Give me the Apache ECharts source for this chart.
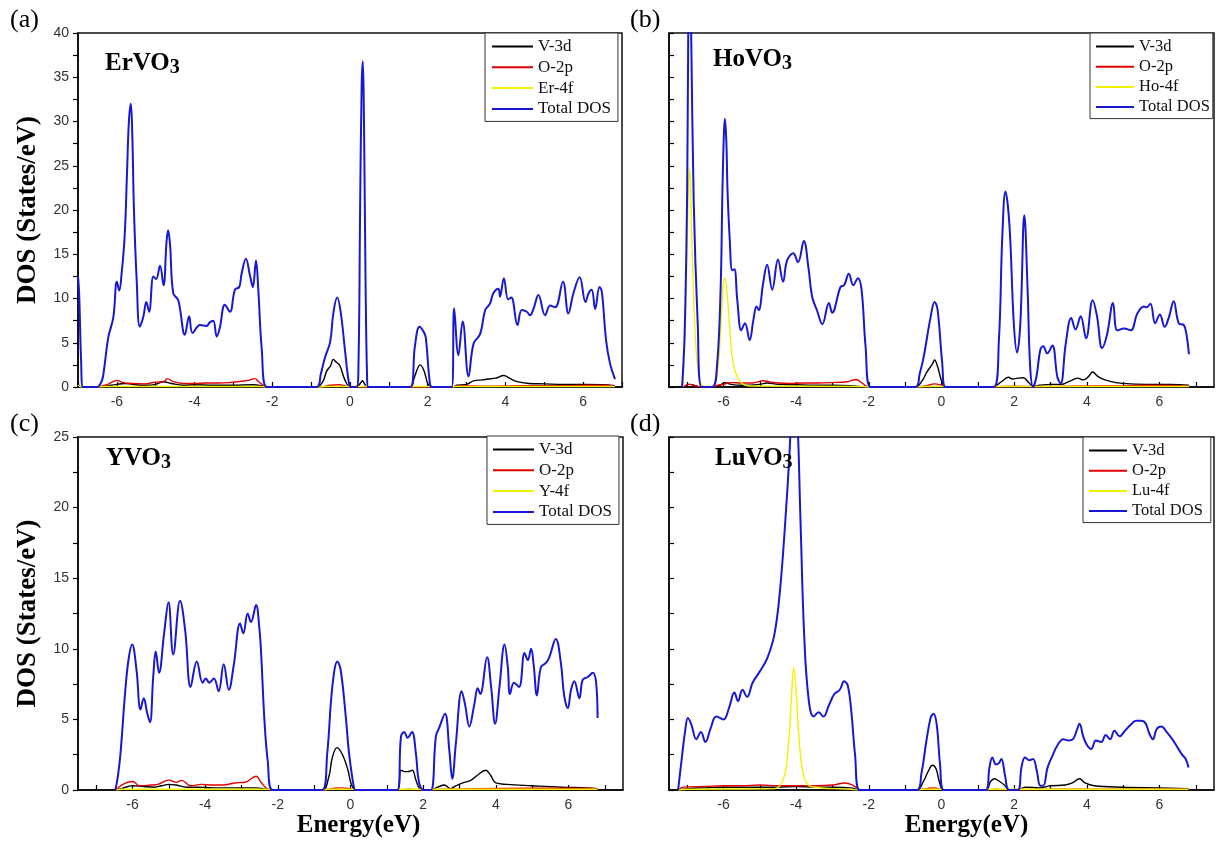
<!DOCTYPE html>
<html>
<head>
<meta charset="utf-8">
<title>Density of states of RVO3</title>
<script src="https://cdn.jsdelivr.net/npm/echarts@6/dist/echarts.min.js"></script>
<style>
html,body{margin:0;padding:0;background:#fff;}
#chart{width:1221px;height:843px;}
</style>
</head>
<body>
<div id="chart"></div>
<script>
// ---------- axis tick values ----------
const energyLabels = [-6, -4, -2, 0, 2, 4, 6];
const energyTicks = [-7, -6, -5, -4, -3, -2, -1, 0, 1, 2, 3, 4, 5, 6, 7];

// ---------- (a) ErVO3 : [energy (eV), DOS (states/eV)] ----------
const erTotal = [[-7.0,12.5],[-6.97,10.5],[-6.92,3],[-6.87,0],[-6.5,0],[-6.42,0.4],[-6.36,1.1],[-6.22,5.6],[-6.09,7.9],[-6.0,11.9],[-5.94,10.9],[-5.88,12.7],[-5.8,17.0],[-5.74,24],[-5.69,30],[-5.64,32],[-5.6,28],[-5.56,20],[-5.49,12.1],[-5.41,6.8],[-5.32,7.9],[-5.24,9.6],[-5.17,8.5],[-5.06,12.5],[-4.99,12.2],[-4.89,13.7],[-4.8,11.5],[-4.72,16.5],[-4.68,17.7],[-4.63,16],[-4.55,10.6],[-4.42,9.8],[-4.25,5.9],[-4.14,8.0],[-4.05,6.1],[-3.86,7.0],[-3.69,6.9],[-3.61,7.3],[-3.52,7.5],[-3.43,5.7],[-3.35,6.7],[-3.22,9.3],[-3.09,8.5],[-2.96,11.0],[-2.85,11.3],[-2.79,12.8],[-2.68,14.5],[-2.57,12.5],[-2.5,11.3],[-2.42,14.3],[-2.36,11],[-2.27,4.2],[-2.14,0],
  [-0.86,0],[-0.75,1.5],[-0.64,3.4],[-0.51,5.1],[-0.43,8.3],[-0.33,10.1],[-0.24,8.5],[-0.13,4.2],[-0.02,0.3],[0.05,0],[0.17,0],[0.22,3],[0.26,20],[0.3,34],[0.33,36.8],[0.36,30],[0.4,12],[0.44,1],[0.47,0],
  [1.55,0],[1.67,4.6],[1.79,6.8],[1.9,6.2],[1.95,5.6],[2.06,0.3],[2.12,0],[2.62,0],[2.68,8.9],[2.79,3.6],[2.9,7.4],[3.05,1.2],[3.18,4.9],[3.35,6.0],[3.48,8.7],[3.6,9.4],[3.69,10.6],[3.82,11.1],[3.86,10.2],[3.96,12.3],[4.07,9.9],[4.15,10.1],[4.31,7.0],[4.42,8.7],[4.55,8.5],[4.63,8.1],[4.72,8.8],[4.85,10.4],[5.02,8.1],[5.15,9.2],[5.28,9.0],[5.48,11.9],[5.62,8.3],[5.75,10.6],[5.91,12.4],[6.06,9.6],[6.14,10.6],[6.22,11.0],[6.31,8.8],[6.42,11.3],[6.48,10.8],[6.59,5.3],[6.69,2.7],[6.82,0.9]];
const erV3d = [[-7.0,0.3],[-6.9,0],[-6.5,0],[-6.3,0.1],[-6.0,0.3],[-5.8,0.4],[-5.6,0.3],[-5.3,0.2],[-5.0,0.3],[-4.8,0.6],[-4.6,0.4],[-4.3,0.2],[-4.0,0.25],[-3.5,0.2],[-3.0,0.2],[-2.5,0.25],[-2.2,0.1],[-2.1,0],
  [-0.86,0],[-0.7,0.6],[-0.6,1.8],[-0.5,2.4],[-0.43,3.1],[-0.35,2.8],[-0.26,2.4],[-0.15,1.0],[-0.03,0.1],[0.1,0],[0.2,0.1],[0.28,0.5],[0.32,0.7],[0.37,0.4],[0.44,0],
  [1.55,0],[1.65,1.0],[1.75,2.2],[1.8,2.5],[1.9,1.9],[2.0,0.4],[2.08,0],[2.65,0],[2.75,0.2],[3.0,0.3],[3.18,0.7],[3.4,0.8],[3.55,0.9],[3.75,1.0],[3.96,1.3],[4.1,1.0],[4.3,0.6],[4.6,0.4],[5.0,0.35],[5.5,0.3],[6.0,0.3],[6.5,0.25],[6.82,0.15]];
const erO2p = [[-6.5,0],[-6.3,0.2],[-6.1,0.6],[-6.0,0.75],[-5.85,0.5],[-5.6,0.4],[-5.3,0.35],[-5.0,0.55],[-4.8,0.6],[-4.7,0.95],[-4.55,0.6],[-4.3,0.4],[-4.0,0.4],[-3.7,0.45],[-3.4,0.45],[-3.1,0.5],[-2.8,0.65],[-2.6,0.75],[-2.45,0.95],[-2.35,0.6],[-2.2,0.1],[-2.1,0],
  [-0.8,0],[-0.5,0.2],[-0.3,0.25],[-0.05,0.05],[0.1,0],[2.65,0],[2.8,0.15],[3.5,0.1],[4.5,0.15],[5.5,0.15],[6.2,0.2],[6.5,0.2],[6.82,0.1]];
const erF4f = [[-7.0,0.2],[-6.9,0],[-6.5,0],[-6.3,0.06],[-2.3,0.06],[-2.1,0],[-0.8,0],[-0.6,0.06],[0.45,0.06],[0.5,0],[1.55,0],[1.6,0.06],[2.05,0.06],[2.1,0],[2.6,0],[2.7,0.06],[6.82,0.06]];

// ---------- (b) HoVO3 ----------
const hoTotal = [[-7.14,0],[-7.07,6],[-7.0,22],[-6.97,40],[-6.93,48],[-6.89,40],[-6.82,21],[-6.71,7.2],[-6.6,0],[-6.31,0],[-6.18,2.3],[-6.08,11],[-6.03,22],[-5.99,28.5],[-5.96,30.3],[-5.92,27.5],[-5.89,22.3],[-5.83,16.8],[-5.76,13.2],[-5.70,13.3],[-5.62,9.8],[-5.51,6.4],[-5.41,7.2],[-5.28,5.3],[-5.18,7.5],[-5.09,9.1],[-5.03,8.7],[-4.91,11.7],[-4.8,13.8],[-4.66,11.0],[-4.5,14.4],[-4.36,11.9],[-4.25,14.3],[-4.08,15.1],[-3.95,14.1],[-3.79,16.5],[-3.66,13.4],[-3.56,10.2],[-3.43,8.7],[-3.28,7.1],[-3.1,9.5],[-3.01,8.4],[-2.78,11.3],[-2.68,11.5],[-2.55,12.8],[-2.43,11.5],[-2.3,12.3],[-2.2,11.0],[-2.09,4.6],[-1.95,0],
  [-0.72,0],[-0.6,1.5],[-0.49,3.4],[-0.3,7.9],[-0.19,9.6],[-0.11,8.8],[0.02,2.7],[0.11,0],
  [1.44,0],[1.58,5.3],[1.67,16.6],[1.76,22.1],[1.87,18.3],[1.99,7.2],[2.08,3.9],[2.17,7.2],[2.28,19.4],[2.37,11.0],[2.44,2.3],[2.52,0],[2.61,1.1],[2.72,4.2],[2.8,4.6],[2.91,3.8],[3.05,4.7],[3.19,1.1],[3.28,0.4],[3.42,4.9],[3.57,7.8],[3.69,6.5],[3.83,8.0],[3.98,5.5],[4.16,9.8],[4.28,8.0],[4.42,4.4],[4.56,6.0],[4.72,9.5],[4.84,6.4],[5.03,6.6],[5.21,6.4],[5.39,8.3],[5.57,9.1],[5.64,9.0],[5.75,9.4],[5.88,7.2],[6.01,8.2],[6.14,6.8],[6.26,7.9],[6.39,9.7],[6.53,7.2],[6.67,7.0],[6.74,6.0],[6.81,3.7]];
const hoV3d = [[-7.1,0],[-6.95,0.3],[-6.6,0],[-6.3,0],[-6.1,0.2],[-5.95,0.5],[-5.8,0.3],[-5.5,0.2],[-5.0,0.3],[-4.8,0.45],[-4.5,0.3],[-4.0,0.25],[-3.5,0.2],[-3.0,0.2],[-2.5,0.15],[-2.0,0],
  [-0.72,0],[-0.55,0.6],[-0.4,1.7],[-0.25,2.6],[-0.19,3.05],[-0.1,2.2],[-0.03,1.1],[0.05,0.2],[0.12,0],
  [1.44,0],[1.55,0.3],[1.65,0.6],[1.84,1.1],[1.95,0.9],[2.1,1.0],[2.25,1.05],[2.4,0.5],[2.52,0.1],[2.7,0.2],[3.0,0.3],[3.3,0.3],[3.5,0.6],[3.75,1.0],[3.9,0.8],[4.05,1.2],[4.16,1.7],[4.3,1.2],[4.5,0.8],[4.8,0.5],[5.2,0.35],[5.8,0.3],[6.3,0.3],[6.81,0.2]];
const hoO2p = [[-7.1,0],[-6.95,0.3],[-6.6,0],[-6.3,0],[-6.15,0.2],[-6.0,0.3],[-5.8,0.5],[-5.5,0.45],[-5.2,0.45],[-4.9,0.7],[-4.7,0.55],[-4.5,0.45],[-4.2,0.4],[-3.8,0.45],[-3.4,0.45],[-3.0,0.5],[-2.6,0.6],[-2.35,0.85],[-2.2,0.5],[-2.0,0],
  [-0.72,0],[-0.4,0.15],[-0.2,0.35],[0.0,0.2],[0.12,0],[1.44,0],[2.0,0.1],[2.6,0.05],[3.5,0.1],[5.0,0.15],[5.8,0.2],[6.5,0.15],[6.81,0.1]];
const hoF4f = [[-7.12,0],[-7.04,8],[-6.97,22],[-6.93,24.7],[-6.88,18],[-6.82,10],[-6.75,4],[-6.65,0.8],[-6.55,0.1],[-6.3,0.05],[-6.18,1.1],[-6.08,6.4],[-6.01,11.5],[-5.96,12.3],[-5.9,10.5],[-5.85,7.9],[-5.76,3.4],[-5.62,1.1],[-5.45,0.3],[-5.2,0.1],[-2.2,0.06],[-2.0,0],
  [-0.7,0],[-0.5,0.05],[0.1,0.05],[0.15,0],[1.44,0],[1.5,0.05],[2.5,0.05],[2.6,0.05],[6.81,0.05]];

// ---------- (c) YVO3 ----------
const yTotal = [[-6.47,0],[-6.4,1],[-6.33,2.6],[-6.19,7.3],[-6.1,9.4],[-6.01,10.3],[-5.89,8.5],[-5.78,5.7],[-5.69,6.5],[-5.6,5.5],[-5.52,4.8],[-5.43,8.0],[-5.36,9.8],[-5.27,8.3],[-5.13,11.1],[-5.01,13.3],[-4.88,9.6],[-4.69,13.4],[-4.55,11.3],[-4.4,7.3],[-4.23,9.1],[-4.07,7.6],[-3.98,7.9],[-3.89,7.6],[-3.76,7.9],[-3.63,7.0],[-3.49,8.9],[-3.35,7.1],[-3.21,8.9],[-3.04,11.8],[-2.95,11.1],[-2.83,12.5],[-2.74,11.9],[-2.6,13.1],[-2.51,11.5],[-2.46,9.7],[-2.37,5.0],[-2.28,2.1],[-2.14,0],
  [-0.78,0],[-0.64,2.6],[-0.5,7.3],[-0.36,9.1],[-0.27,8.5],[-0.13,5.2],[-0.04,2.6],[0.1,0.1],[0.15,0],
  [1.29,0],[1.39,3.8],[1.48,4.1],[1.57,3.7],[1.69,4.1],[1.8,2.6],[1.89,0.5],[2.03,0],
  [2.21,0],[2.35,3.8],[2.44,4.4],[2.6,5.4],[2.72,2.8],[2.8,0.8],[2.9,3.3],[3.06,7.0],[3.15,6.1],[3.27,4.5],[3.41,6.1],[3.5,7.2],[3.57,6.8],[3.76,9.4],[3.87,7.3],[3.98,4.7],[4.1,7.3],[4.24,10.3],[4.33,8.7],[4.39,6.8],[4.5,7.6],[4.64,7.3],[4.79,9.7],[4.88,9.2],[4.97,10.0],[5.04,8.9],[5.13,6.7],[5.24,8.7],[5.38,9.0],[5.47,9.4],[5.65,10.7],[5.79,9.0],[5.88,6.7],[5.98,5.8],[6.07,7.1],[6.16,7.7],[6.3,6.5],[6.39,7.8],[6.53,8.0],[6.67,8.3],[6.76,7.6],[6.8,5.1]];
const yV3d = [[-6.45,0],[-6.3,0.1],[-6.0,0.3],[-5.7,0.25],[-5.4,0.2],[-5.2,0.3],[-5.0,0.4],[-4.8,0.35],[-4.5,0.2],[-4.2,0.2],[-3.8,0.15],[-3.4,0.15],[-3.0,0.15],[-2.6,0.15],[-2.3,0.05],[-2.15,0],
  [-0.78,0],[-0.6,0.9],[-0.5,2.3],[-0.37,3.0],[-0.22,2.5],[-0.08,1.5],[0.01,0.5],[0.1,0.05],[0.15,0],
  [1.29,0],[1.39,1.4],[1.5,1.3],[1.57,1.3],[1.7,1.4],[1.8,0.7],[1.9,0.1],[2.0,0],[2.2,0],[2.4,0.2],[2.58,0.35],[2.75,0.1],[2.9,0.3],[3.09,0.5],[3.32,0.7],[3.5,1.06],[3.72,1.4],[3.85,1.06],[4.0,0.5],[4.3,0.4],[5.0,0.3],[5.8,0.2],[6.5,0.15],[6.8,0.1]];
const yO2p = [[-6.45,0],[-6.3,0.35],[-6.0,0.6],[-5.8,0.3],[-5.5,0.35],[-5.3,0.4],[-5.0,0.7],[-4.8,0.55],[-4.65,0.68],[-4.4,0.3],[-4.1,0.4],[-3.8,0.35],[-3.5,0.35],[-3.2,0.5],[-2.9,0.55],[-2.6,0.97],[-2.45,0.5],[-2.3,0.1],[-2.15,0],
  [-0.78,0],[-0.5,0.1],[-0.3,0.15],[0.0,0.1],[0.15,0],[1.29,0],[1.6,0.05],[2.0,0],[2.2,0],[2.5,0.05],[3.5,0.1],[5.0,0.12],[6.0,0.12],[6.8,0.1]];
const yF4f = [[-6.45,0],[-6.3,0.05],[-2.2,0.05],[-2.15,0],[-0.78,0],[-0.6,0.05],[0.1,0.05],[0.15,0],[1.29,0],[1.35,0.05],[1.95,0.05],[2.0,0],[2.2,0],[2.3,0.05],[6.8,0.05]];

// ---------- (d) LuVO3 ----------
const luTotal = [[-7.25,0],[-7.15,2.2],[-7.05,4.3],[-6.98,5.1],[-6.88,4.6],[-6.75,3.6],[-6.62,4.1],[-6.5,3.4],[-6.35,4.4],[-6.2,5.2],[-6.0,5.0],[-5.85,5.8],[-5.7,6.9],[-5.6,6.3],[-5.48,7.1],[-5.35,6.6],[-5.2,7.6],[-5.0,8.4],[-4.8,9.3],[-4.6,11],[-4.45,14],[-4.3,19],[-4.18,24],[-4.08,29],[-3.98,27],[-3.88,19],[-3.78,11],[-3.66,6.5],[-3.52,5.2],[-3.38,5.5],[-3.25,5.2],[-3.1,6.0],[-2.95,6.8],[-2.8,7.1],[-2.68,7.7],[-2.58,7.4],[-2.48,5.5],[-2.38,2.5],[-2.25,0],
  [-0.68,0],[-0.55,1.2],[-0.42,3.4],[-0.3,5.1],[-0.22,5.4],[-0.13,4.6],[-0.04,1.8],[0.06,0],
  [1.22,0],[1.32,1.6],[1.4,2.3],[1.5,1.8],[1.58,1.9],[1.65,2.2],[1.75,1.0],[1.86,0],[2.1,0],[2.2,1.6],[2.3,2.3],[2.42,2.1],[2.52,2.2],[2.62,1.4],[2.72,0.3],[2.8,0.3],[2.92,1.6],[3.05,2.4],[3.2,3.2],[3.35,3.6],[3.5,3.5],[3.62,3.6],[3.72,4.2],[3.8,4.7],[3.9,3.8],[4.0,3.2],[4.12,2.9],[4.25,3.5],[4.4,3.4],[4.52,3.9],[4.64,3.6],[4.76,4.2],[4.9,3.8],[5.05,4.2],[5.2,4.6],[5.35,4.9],[5.5,4.9],[5.62,4.7],[5.72,4.0],[5.82,3.6],[5.92,4.3],[6.05,4.5],[6.2,4.1],[6.35,3.6],[6.5,3.0],[6.62,2.5],[6.72,2.2],[6.8,1.6]];
const luV3d = [[-7.25,0],[-7.0,0.1],[-6.5,0.15],[-6.0,0.2],[-5.5,0.2],[-5.0,0.2],[-4.5,0.2],[-4.0,0.25],[-3.5,0.2],[-3.0,0.2],[-2.5,0.15],[-2.25,0],
  [-0.68,0],[-0.5,0.6],[-0.35,1.4],[-0.25,1.75],[-0.15,1.5],[-0.05,0.5],[0.06,0],[1.22,0],[1.35,0.6],[1.45,0.8],[1.6,0.6],[1.75,0.3],[1.86,0],[2.1,0],[2.3,0.2],[2.7,0.15],[3.0,0.3],[3.4,0.35],[3.6,0.5],[3.8,0.8],[3.95,0.5],[4.2,0.3],[5.0,0.2],[6.0,0.15],[6.8,0.1]];
const luO2p = [[-7.25,0],[-7.1,0.2],[-6.5,0.25],[-6.0,0.3],[-5.5,0.3],[-5.0,0.35],[-4.5,0.3],[-4.0,0.3],[-3.5,0.3],[-3.0,0.35],[-2.65,0.5],[-2.45,0.35],[-2.3,0.1],[-2.25,0],[-0.68,0],[-0.4,0.1],[-0.2,0.15],[0.06,0],[1.22,0],[1.5,0.05],[1.86,0],[2.1,0],[3.0,0.05],[6.8,0.05]];
const luF4f = [[-7.25,0],[-7.0,0.05],[-4.6,0.1],[-4.35,0.8],[-4.22,3],[-4.12,7],[-4.07,8.7],[-4.0,7],[-3.9,3],[-3.78,0.9],[-3.6,0.25],[-2.5,0.05],[-2.25,0],[-0.68,0],[-0.5,0.05],[0.05,0.05],[0.06,0],[1.22,0],[1.3,0.05],[6.8,0.05]];

// ---------- panel definitions ----------
const partialNames = ['V-3d', 'O-2p'];
const panels = [
  { tag: '(a)', formula: 'ErVO', f4: 'Er-4f', data: [erV3d, erO2p, erF4f, erTotal] },
  { tag: '(b)', formula: 'HoVO', f4: 'Ho-4f', data: [hoV3d, hoO2p, hoF4f, hoTotal] },
  { tag: '(c)', formula: 'YVO',  f4: 'Y-4f',  data: [yV3d, yO2p, yF4f, yTotal] },
  { tag: '(d)', formula: 'LuVO', f4: 'Lu-4f', data: [luV3d, luO2p, luF4f, luTotal] }
];

const SERIF = '"Liberation Serif", "Times New Roman", serif';
const SANS = '"Liberation Sans", Arial, sans-serif';
const lineColors = ['#000000', '#e00000', '#f2f200', '#1818d2'];
const lineWidths = [1.4, 1.4, 1.4, 2.0];

const grids = [
  { left: 78,  top: 33,  width: 544, height: 354 },
  { left: 669, top: 33,  width: 545, height: 354 },
  { left: 78,  top: 437, width: 545, height: 353 },
  { left: 669, top: 437, width: 545, height: 353 }
].map(g => Object.assign({ show: true, borderColor: '#111', borderWidth: 1.5,
  backgroundColor: 'transparent', outerBoundsMode: 'none', containLabel: false }, g));

const xRanges = [[-7, 7], [-7.5, 7.5], [-7.5, 7.5], [-7.5, 7.5]];
const xAxes = xRanges.map((r, i) => ({
  type: 'value', gridIndex: i, min: r[0], max: r[1],
  axisLine: { show: true, onZero: false, lineStyle: { color: '#000', width: 1.5 } },
  axisTick: { show: true, inside: true, length: 5, customValues: energyTicks, lineStyle: { color: '#000', width: 1.2 } },
  axisLabel: { show: true, customValues: energyLabels, margin: 8, fontSize: 14, color: '#333', fontFamily: SANS },
  splitLine: { show: false },
  name: i >= 2 ? 'Energy(eV)' : '',
  nameLocation: 'middle', nameGap: 23,
  nameTextStyle: { fontFamily: SERIF, fontWeight: 'bold', fontSize: 25, color: '#000',
    padding: i === 2 ? [0, 0, 0, 16] : [0, 0, 0, 50] }
}));

const yMax = [40, 40, 25, 25];
const yAxes = yMax.map((m, i) => {
  const left = (i % 2 === 0);
  return {
    type: 'value', gridIndex: i, min: 0, max: m, interval: 5,
    axisLine: { show: true, onZero: false, lineStyle: { color: '#000', width: 1.5 } },
    axisTick: { show: true, inside: !left, length: 5, lineStyle: { color: '#000', width: 1.2 } },
    minorTick: { show: true, splitNumber: 2, length: 5, lineStyle: { color: '#000', width: 1.2 } },
    axisLabel: { show: left, margin: 9, fontSize: 14, color: '#333', fontFamily: SANS },
    splitLine: { show: false }, minorSplitLine: { show: false },
    name: left ? 'DOS (States/eV)' : '',
    nameLocation: 'middle', nameRotate: 90, nameGap: 36,
    nameTextStyle: { fontFamily: SERIF, fontWeight: 'bold', fontSize: 27, color: '#000' }
  };
});

const series = [];
panels.forEach((p, i) => {
  const names = [partialNames[0], partialNames[1], p.f4, 'Total DOS'];
  p.data.forEach((d, k) => {
    series.push({
      type: 'line', name: names[k], xAxisIndex: i, yAxisIndex: i,
      data: d, showSymbol: false, symbol: 'none', smooth: 0.4, clip: true,
      color: lineColors[k],
      lineStyle: { color: lineColors[k], width: lineWidths[k] },
      z: 2 + k, silent: true
    });
  });
});

const legendBoxes = [
  { left: 485,  top: 33,  fontSize: 17, lineHeight: 17, itemGap: 3.8, itemWidth: 41, padding: [5, 7, 4, 7] },
  { left: 1090, top: 33,  fontSize: 16.5, lineHeight: 16, itemGap: 3.2, itemWidth: 38, padding: [5, 3, 3, 6] },
  { left: 487,  top: 436, fontSize: 17, lineHeight: 17, itemGap: 3.8, itemWidth: 41, padding: [5, 7, 4, 6] },
  { left: 1083, top: 437, fontSize: 16.5, lineHeight: 16, itemGap: 3.2, itemWidth: 38, padding: [5, 8, 3, 6] }
];
const legends = legendBoxes.map((b, i) => ({
  orient: 'vertical', left: b.left, top: b.top, padding: b.padding,
  itemGap: b.itemGap, itemWidth: b.itemWidth, itemHeight: 2, icon: 'rect',
  backgroundColor: '#fff', borderColor: '#333', borderWidth: 1, borderRadius: 0,
  selectedMode: false, align: 'left',
  textStyle: { fontFamily: SERIF, fontSize: b.fontSize, lineHeight: b.lineHeight, color: '#111' },
  data: [partialNames[0], partialNames[1], panels[i].f4, 'Total DOS']
}));

// panel letters and compound names
const tagPos = [[10, 7], [630, 7], [10, 411], [630, 411]];
const formulaPos = [[105, 50], [713, 46], [106, 445], [715, 445]];
const graphic = [];
panels.forEach((p, i) => {
  graphic.push({
    type: 'text', x: tagPos[i][0], y: tagPos[i][1], silent: true,
    style: { text: p.tag, font: '26px ' + SERIF, fill: '#000', verticalAlign: 'top' }
  });
  graphic.push({
    type: 'text', x: formulaPos[i][0], y: formulaPos[i][1], silent: true, z: 100,
    style: {
      text: '{m|' + p.formula + '}{s|3}', verticalAlign: 'top',
      rich: {
        m: { fontFamily: SERIF, fontWeight: 'bold', fontSize: 25, fill: '#000', lineHeight: 28 },
        s: { fontFamily: SERIF, fontWeight: 'bold', fontSize: 20, fill: '#000', lineHeight: 20, verticalAlign: 'bottom' }
      }
    }
  });
});

const chart = echarts.init(document.getElementById('chart'), null, { renderer: 'canvas' });
chart.setOption({
  animation: false,
  backgroundColor: '#fff',
  grid: grids,
  xAxis: xAxes,
  yAxis: yAxes,
  legend: legends,
  series: series,
  graphic: graphic
});
</script>
</body>
</html>
